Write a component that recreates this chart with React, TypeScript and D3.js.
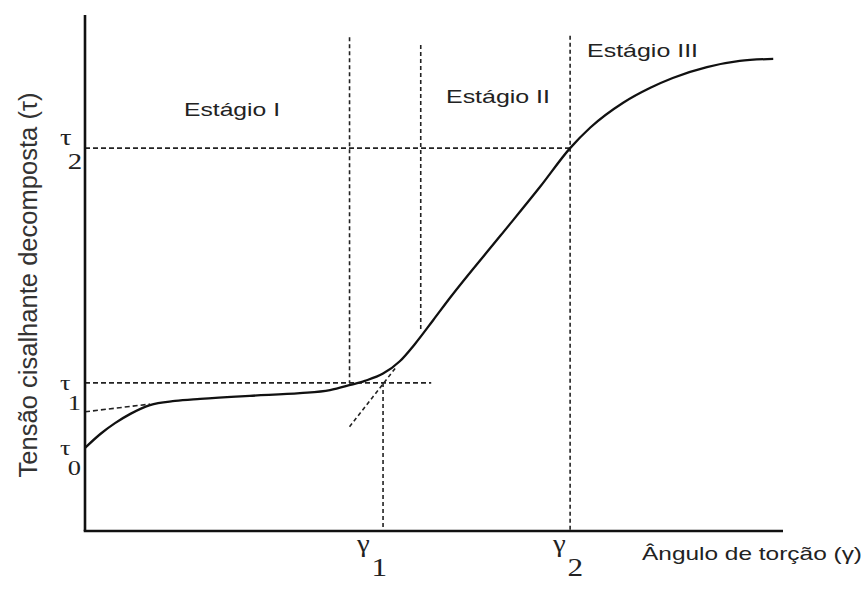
import React from "react";
import * as d3 from "d3";

// Curve: shear strain (γ, arbitrary units 0–100) vs resolved shear stress (τ, arbitrary units 0–100)
const curveGamma = [0, 2.2, 4.3, 6.5, 9.3, 12.9, 16.5, 23.6, 30.8, 35.1, 38.0, 40.1, 42.7, 45.1, 47.3, 49.9, 52.3, 59.5, 65.2, 69.5, 72.4, 77.1, 81.0, 84.2, 89.1, 93.8, 98.6];
const curveTau = [16.1, 18.8, 20.9, 22.7, 24.4, 25.2, 25.6, 26.2, 26.7, 27.3, 28.3, 29.1, 30.5, 32.9, 36.3, 40.9, 45.2, 57.2, 66.7, 74.2, 78.2, 83.0, 85.9, 87.8, 89.9, 91.1, 91.5];

// Reference levels
const tauLevels = [16.1, 28.7, 74.2]; // τ0, τ1, τ2
const tauLabels = ["0", "1", "2"];
const gammaLevels = [42.7, 69.5]; // γ1, γ2
const gammaLabels = ["1", "2"];
const stageBounds = [37.9, 48.1];
const stageNames = ["Estágio I", "Estágio II", "Estágio III"];

// tangent (dashed) and back-extrapolation of stage I
const tangentGamma = [37.9, 44.6];
const tangentTau = [20.2, 31.8];
const backGamma = [0, 9.3];
const backTau = [23.1, 24.6];

const W = 867;
const H = 593;

export default function App() {
  const x = d3.scaleLinear().domain([0, 100]).range([85, 783]);
  const y = d3.scaleLinear().domain([0, 100]).range([531, 15]);

  const line = d3
    .line<number>()
    .x((_, i) => x(curveGamma[i]))
    .y((d) => y(d))
    .curve(d3.curveMonotoneX);

  const dash = { stroke: "#222", strokeWidth: 1.6, strokeDasharray: "5,3", fill: "none" };
  const sans = "'Liberation Sans', Arial, sans-serif";
  const serif = "'Liberation Serif', 'Times New Roman', serif";

  const tau1 = tauLevels[1];
  const tau2 = tauLevels[2];

  return (
    <svg width={W} height={H} style={{ position: "absolute", left: 0, top: 0, background: "#fff" }}>
      {/* dashed guides */}
      <line x1={x(0)} x2={x(gammaLevels[1])} y1={y(tau2)} y2={y(tau2)} {...dash} />
      <line x1={x(0)} x2={x(49.6)} y1={y(tau1)} y2={y(tau1)} {...dash} />
      <line x1={x(stageBounds[0])} x2={x(stageBounds[0])} y1={y(95.7)} y2={y(tau1)} {...dash} strokeDasharray="4,3" />
      <line x1={x(stageBounds[1])} x2={x(stageBounds[1])} y1={y(94.2)} y2={y(39.0)} {...dash} strokeDasharray="4,3" />
      <line x1={x(gammaLevels[0])} x2={x(gammaLevels[0])} y1={y(tau1)} y2={y(0)} {...dash} strokeDasharray="4,3" />
      <line x1={x(gammaLevels[1])} x2={x(gammaLevels[1])} y1={y(96.0)} y2={y(0)} {...dash} strokeDasharray="4,3" />
      <line x1={x(tangentGamma[0])} x2={x(tangentGamma[1])} y1={y(tangentTau[0])} y2={y(tangentTau[1])} {...dash} strokeDasharray="4,3" />
      <line x1={x(backGamma[0])} x2={x(backGamma[1])} y1={y(backTau[0])} y2={y(backTau[1])} {...dash} />

      {/* curve */}
      <path d={line(curveTau) || ""} fill="none" stroke="#111" strokeWidth={2.3} />

      {/* axes */}
      <line x1={x(0)} x2={x(0)} y1={y(100)} y2={y(0)} stroke="#111" strokeWidth={2.6} />
      <line x1={x(0) - 1.3} x2={x(100)} y1={y(0)} y2={y(0)} stroke="#111" strokeWidth={2.6} />

      {/* stage labels */}
      <text x={184} y={116} fontFamily={sans} fontSize={18.5} fill="#222" textLength={96} lengthAdjust="spacingAndGlyphs">{stageNames[0]}</text>
      <text x={446} y={103} fontFamily={sans} fontSize={18.5} fill="#222" textLength={104} lengthAdjust="spacingAndGlyphs">{stageNames[1]}</text>
      <text x={587} y={57} fontFamily={sans} fontSize={18.5} fill="#222" textLength={111} lengthAdjust="spacingAndGlyphs">{stageNames[2]}</text>

      {/* axis titles */}
      <text x={642} y={560} fontFamily={sans} fontSize={18.5} fill="#222" textLength={220} lengthAdjust="spacingAndGlyphs">Ângulo de torção (γ)</text>
      <g transform="translate(37,285) scale(1.2,1) rotate(-90)">
        <text x={0} y={0} textAnchor="middle" fontFamily={sans} fontSize={22} fill="#333" textLength={385} lengthAdjust="spacingAndGlyphs">Tensão cisalhante decomposta  (τ)</text>
      </g>

      {/* τ labels */}
      {tauLevels.map((t, i) => {
        const big = i === 2;
        const fs = big ? 24 : 22;
        const by = y(t);
        return (
          <g key={"t" + i} transform={`translate(${x(0) - 25},${by})`}>
            <text x={0} y={big ? -3 : 7} fontFamily={serif} fontSize={fs} fill="#222" transform="scale(1.2,1)">τ</text>
            <text x={6.5} y={big ? 21 : 27} fontFamily={serif} fontSize={fs} fill="#222" transform="scale(1.2,1)">{tauLabels[i]}</text>
          </g>
        );
      })}

      {/* γ labels */}
      {gammaLevels.map((g, i) => (
        <g key={"g" + i} transform={`translate(${x(g) - (i === 0 ? 26 : 17)},${y(0)})`}>
          <text x={0} y={21} fontFamily={serif} fontSize={25} fill="#222" transform="scale(1.15,1)">γ</text>
          <text x={12} y={45} fontFamily={serif} fontSize={26} fill="#222" transform="scale(1.2,1)">{gammaLabels[i]}</text>
        </g>
      ))}
    </svg>
  );
}
